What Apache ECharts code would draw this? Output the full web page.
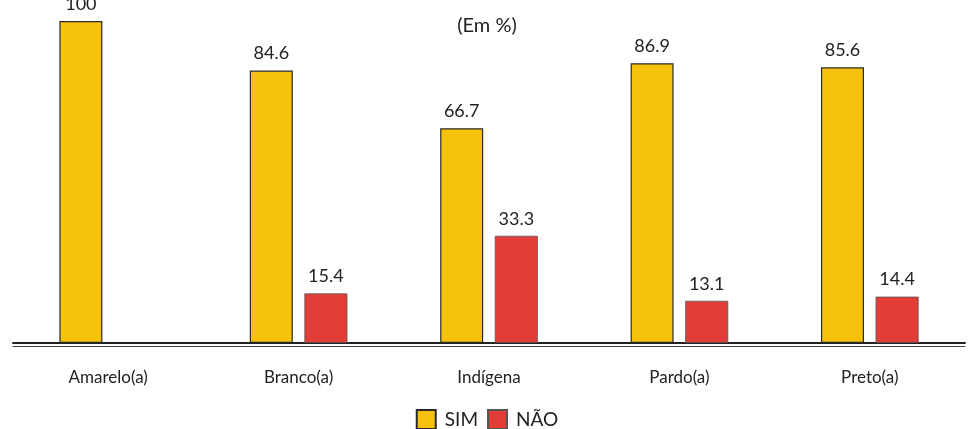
<!DOCTYPE html>
<html>
<head>
<meta charset="utf-8">
<script src="https://cdn.jsdelivr.net/npm/echarts@6/dist/echarts.min.js"></script>
<style>
  html, body { margin: 0; padding: 0; background: #fff; }
  #chart { width: 974px; height: 429px; }
</style>
</head>
<body>
<div id="chart"></div>
<script>
// Categories and percentages (Em %); Amarelo(a) has no "NÃO" bar
const categories = ['Amarelo(a)', 'Branco(a)', 'Indígena', 'Pardo(a)', 'Preto(a)'];
const simValues = [100, 84.6, 66.7, 86.9, 85.6];
const naoValues = [null, 15.4, 33.3, 13.1, 14.4];
const seriesNames = ['SIM', 'NÃO'];

const FONT = 'Lato, "Noto Sans", sans-serif';
const TEXT = '#222';

const chart = echarts.init(document.getElementById('chart'), null, { renderer: 'canvas' });

const labelOpt = {
  show: true,
  position: 'top',
  distance: 8,
  color: TEXT,
  fontFamily: FONT,
  fontSize: 18
};

chart.setOption({
  animation: false,
  title: {
    text: '(Em %)',
    left: 'center',
    top: 11,
    textStyle: { fontFamily: FONT, fontSize: 20, fontWeight: 'normal', color: TEXT }
  },
  legend: {
    data: seriesNames,
    top: 404,
    left: 'center',
    itemWidth: 19,
    itemHeight: 19,
    itemGap: 9,
    icon: 'rect',
    textStyle: { fontFamily: FONT, fontSize: 19, color: TEXT, padding: [0, 0, 0, 4] }
  },
  grid: { left: 13, right: 9, top: 21, bottom: 86, containLabel: false },
  xAxis: [{
    type: 'category',
    data: categories,
    axisTick: { show: false },
    axisLine: { lineStyle: { color: '#222', width: 2 } },
    axisLabel: { fontFamily: FONT, fontSize: 17, color: TEXT, margin: 26 }
  }, {
    type: 'category',
    data: categories,
    position: 'bottom',
    offset: 3,
    axisTick: { show: false },
    axisLabel: { show: false },
    axisLine: { lineStyle: { color: '#444', width: 1 } }
  }],
  yAxis: {
    type: 'value',
    min: 0,
    max: 100,
    show: false
  },
  series: [{
    name: 'SIM',
    type: 'bar',
    data: simValues,
    barWidth: 43,
    barGap: '27%',
    itemStyle: { color: '#F7C20C', borderColor: '#2a2a2a', borderWidth: 1.2 },
    label: labelOpt
  }, {
    name: 'NÃO',
    type: 'bar',
    data: naoValues,
    barWidth: 43,
    itemStyle: { color: '#E23E37', borderColor: '#555', borderWidth: 0.8 },
    label: labelOpt
  }]
});
</script>
</body>
</html>
